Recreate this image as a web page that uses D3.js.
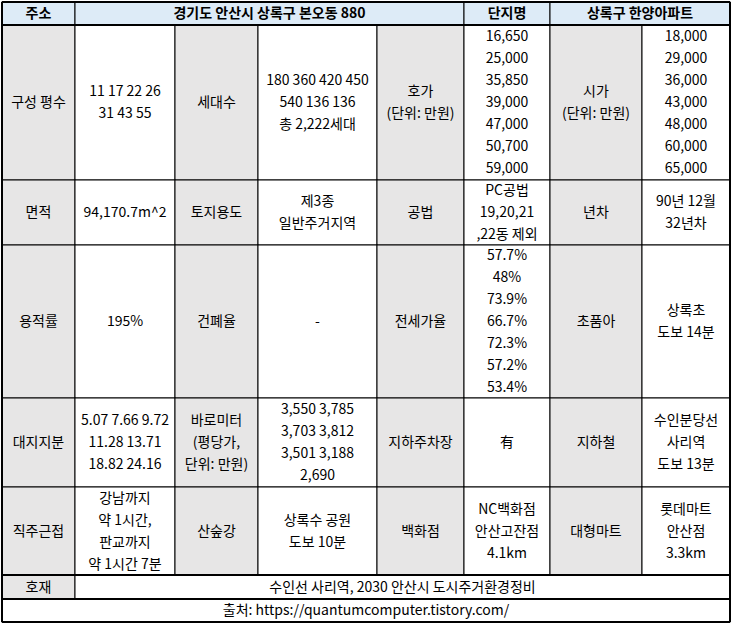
<!DOCTYPE html>
<html><head><meta charset="utf-8">
<script src="https://cdn.jsdelivr.net/npm/d3@7"></script>
<style>body{margin:0;background:#fff}</style></head>
<body><svg id="c" width="732" height="625"></svg>
<script>
const headerRow = [["주소",0,1],["경기도 안산시 상록구 본오동 880",1,4],["단지명",5,1],["상록구 한양아파트",6,2]];
const labels1 = ["구성 평수","세대수","호가\n(단위: 만원)","시가\n(단위: 만원)"];
const values1 = ["11 17 22 26\n31 43 55","180 360 420 450\n540 136 136\n총 2,222세대","16,650\n25,000\n35,850\n39,000\n47,000\n50,700\n59,000","18,000\n29,000\n36,000\n43,000\n48,000\n60,000\n65,000"];
const labels2 = ["면적","토지용도","공법","년차"];
const values2 = ["94,170.7m^2","제3종\n일반주거지역","PC공법\n19,20,21\n,22동 제외","90년 12월\n32년차"];
const labels3 = ["용적률","건폐율","전세가율","초품아"];
const values3 = ["195%","-","57.7%\n48%\n73.9%\n66.7%\n72.3%\n57.2%\n53.4%","상록초\n도보 14분"];
const labels4 = ["대지지분","바로미터\n(평당가,\n단위: 만원)","지하주차장","지하철"];
const values4 = ["5.07 7.66 9.72\n11.28 13.71\n18.82 24.16","3,550 3,785\n3,703 3,812\n3,501 3,188\n2,690","有","수인분당선\n사리역\n도보 13분"];
const labels5 = ["직주근접","산숲강","백화점","대형마트"];
const values5 = ["강남까지\n약 1시간,\n판교까지\n약 1시간 7분","상록수 공원\n도보 10분","NC백화점\n안산고잔점\n4.1km","롯데마트\n안산점\n3.3km"];
const hojaeLabel = "호재", hojaeText = "수인선 사리역, 2030 안산시 도시주거환경정비";
const sourceText = "출처: https://quantumcomputer.tistory.com/";

const colEdges=[2,75,175,258,377,464,550,642,730];
const rowEdges=[2,25,180,245,398,487,575,599,622];
const svg=d3.select("#c");
const cells=[];
headerRow.forEach(([t,c,s])=>cells.push({t,r:0,c,s,fill:"#ddebf7",bold:true}));
[[labels1,values1],[labels2,values2],[labels3,values3],[labels4,values4],[labels5,values5]].forEach(([L,V],i)=>{
  L.forEach((l,j)=>{cells.push({t:l,r:i+1,c:j*2,s:1,fill:"#e7e6e6"});cells.push({t:V[j],r:i+1,c:j*2+1,s:1,fill:"#fff"});});
});
cells.push({t:hojaeLabel,r:6,c:0,s:1,fill:"#e7e6e6"});
cells.push({t:hojaeText,r:6,c:1,s:7,fill:"#fff"});
cells.push({t:sourceText,r:7,c:0,s:8,fill:"#fff"});
const g=svg.selectAll("g.cell").data(cells).join("g");
g.append("rect").attr("x",d=>colEdges[d.c]).attr("y",d=>rowEdges[d.r])
 .attr("width",d=>colEdges[d.c+d.s]-colEdges[d.c]).attr("height",d=>rowEdges[d.r+1]-rowEdges[d.r])
 .attr("fill",d=>d.fill).attr("stroke","#000").attr("stroke-width",1);
g.each(function(d){
  const lines=d.t.split("\n"), lh=22;
  const cx=(colEdges[d.c]+colEdges[d.c+d.s])/2, cy=(rowEdges[d.r]+rowEdges[d.r+1])/2;
  const t=d3.select(this).append("text").attr("text-anchor","middle").attr("font-family","'Noto Sans CJK KR','Noto Sans',sans-serif")
   .attr("font-size",14).attr("font-weight",d.bold?"bold":"normal").attr("fill","#000");
  lines.forEach((l,i)=>t.append("tspan").attr("x",cx).attr("y",cy+(i-(lines.length-1)/2)*lh).attr("dy","0.35em").text(l));
});
// thick borders
const thick=[[2,2,730,2],[2,622,730,622],[2,2,2,622],[730,2,730,622],[2,25,730,25],[2,575,730,575],[2,599,730,599]];
svg.selectAll("line.t").data(thick).join("line").attr("x1",d=>d[0]).attr("y1",d=>d[1]).attr("x2",d=>d[2]).attr("y2",d=>d[3]).attr("stroke","#000").attr("stroke-width",2);
</script></body></html>
